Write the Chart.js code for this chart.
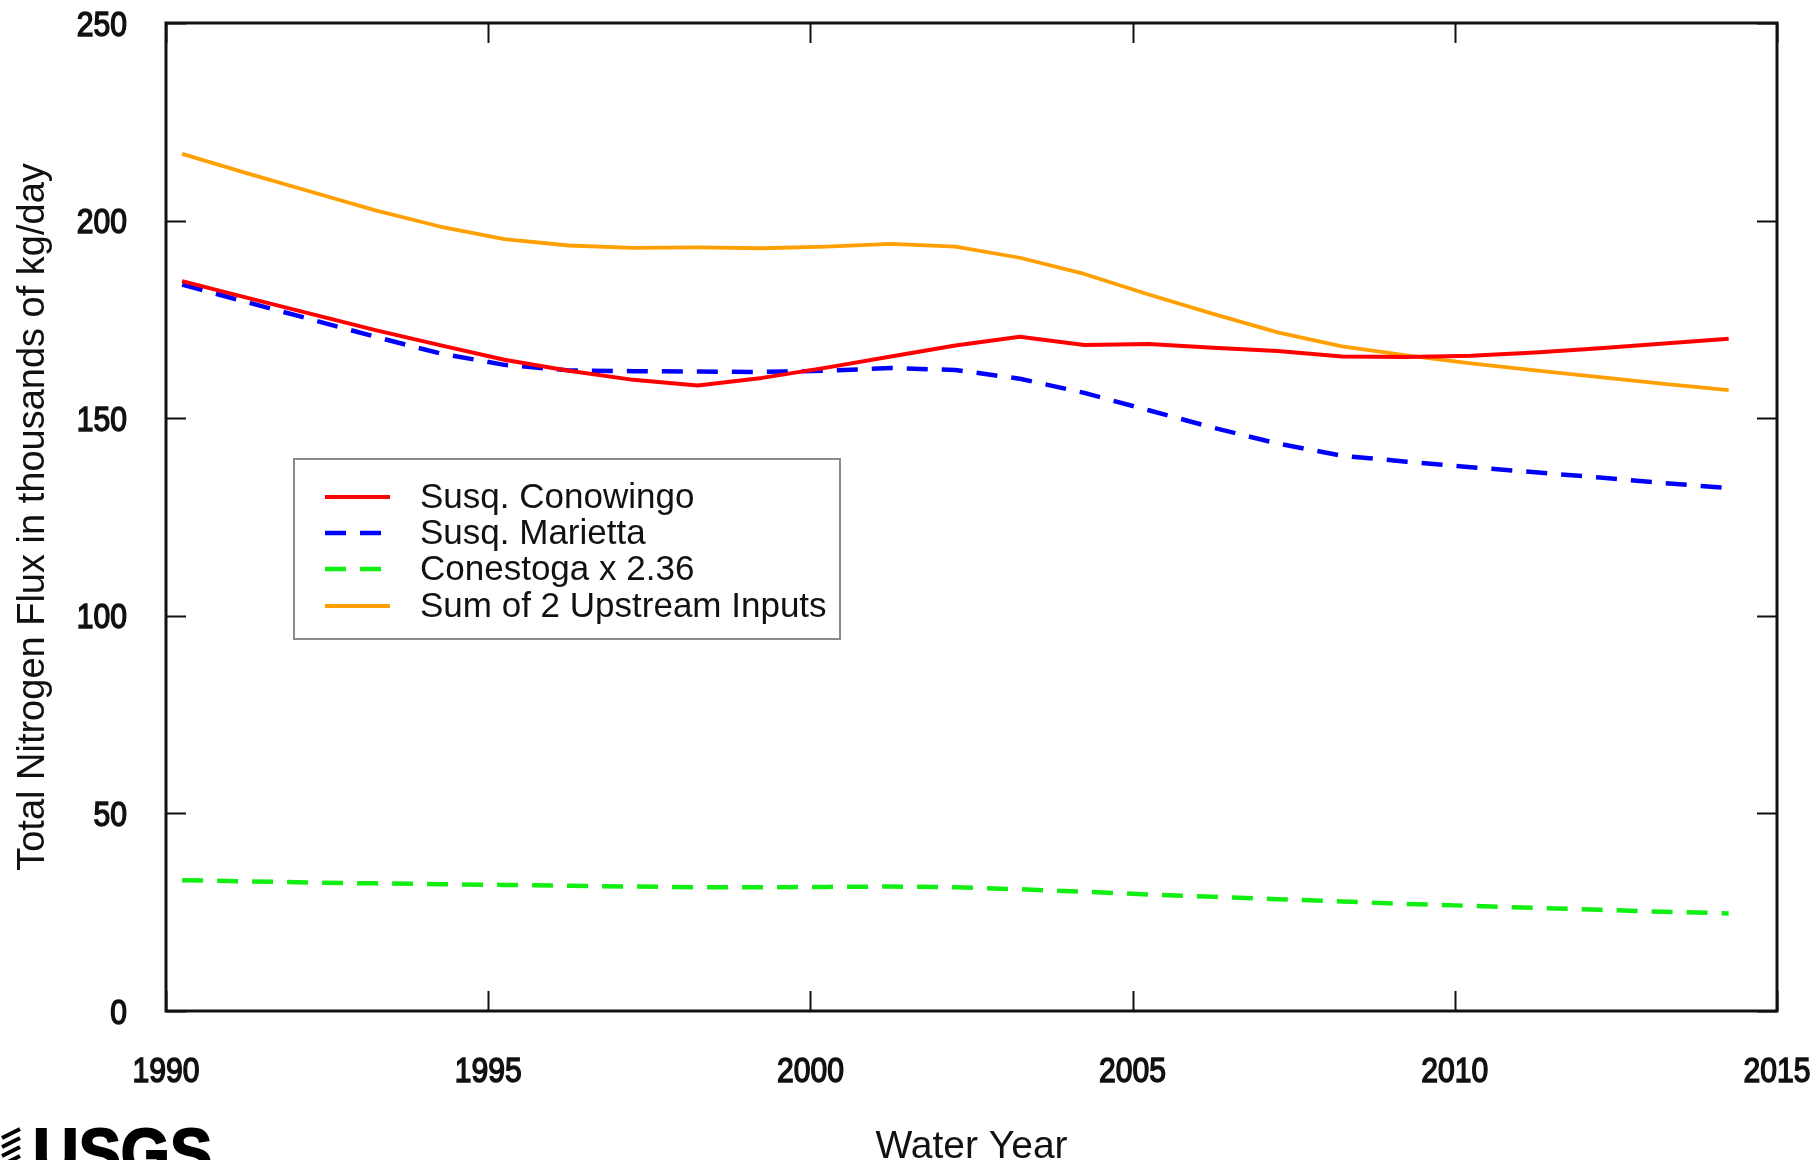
<!DOCTYPE html>
<html>
<head>
<meta charset="utf-8">
<title>Total Nitrogen Flux</title>
<script src="https://cdn.jsdelivr.net/npm/chart.js@4.4.1/dist/chart.umd.min.js"></script>
<style>
  html, body { margin: 0; padding: 0; background: #ffffff; }
  #wrap { width: 1816px; height: 1160px; position: relative; }
  canvas { display: block; }
</style>
</head>
<body>
<div id="wrap"><canvas id="chart" width="1816" height="1160"></canvas></div>
<script>
// Water years, plotted at the middle of each water year
const waterYears = [1990.25, 1991.25, 1992.25, 1993.25, 1994.25, 1995.25, 1996.25, 1997.25, 1998.25,
  1999.25, 2000.25, 2001.25, 2002.25, 2003.25, 2004.25, 2005.25, 2006.25, 2007.25, 2008.25,
  2009.25, 2010.25, 2011.25, 2012.25, 2013.25, 2014.25];

// Flow-normalized total nitrogen flux, thousands of kg/day
const conowingo = [184.7, 180.5, 176.4, 172.3, 168.5, 164.8, 162.0, 159.7, 158.3, 160.2, 162.8, 165.6,
  168.4, 170.6, 168.5, 168.8, 167.8, 167.0, 165.6, 165.5, 165.8, 166.6, 167.7, 168.9, 170.1];
const marietta = [183.8, 179.4, 175.0, 170.6, 166.4, 163.5, 162.1, 161.9, 161.8, 161.7, 162.0, 162.7,
  162.2, 160.0, 156.4, 152.0, 147.6, 143.6, 140.5, 139.0, 137.6, 136.3, 135.0, 133.6, 132.3];
const conestogaScaled = [33.1, 32.8, 32.5, 32.3, 32.1, 31.9, 31.7, 31.5, 31.3, 31.3, 31.4, 31.5,
  31.3, 30.8, 30.2, 29.5, 28.9, 28.3, 27.7, 27.1, 26.6, 26.1, 25.6, 25.1, 24.7];
const upstreamSum = [216.9, 212.0, 207.3, 202.6, 198.5, 195.3, 193.7, 193.1, 193.2, 193.0, 193.4, 194.1,
  193.4, 190.6, 186.5, 181.3, 176.4, 171.7, 168.2, 165.9, 163.9, 162.1, 160.4, 158.7, 157.1];

const seriesNames = ['Susq. Conowingo', 'Susq. Marietta', 'Conestoga x 2.36', 'Sum of 2 Upstream Inputs'];

// Axis ticks
const xTickValues = [1990, 1995, 2000, 2005, 2010, 2015];
const yTickValues = [0, 50, 100, 150, 200, 250];

const W = 1816, H = 1160;
const PLOT = { left: 166, right: 1777, top: 23, bottom: 1011 };
const SANS = '"Liberation Sans", Arial, Helvetica, sans-serif';
const TICK_FONT = '35px "Liberation Sans", Arial, sans-serif';
const TICK_SQUEEZE = 0.86;   // narrow numerals on both axes

const toPoints = vals => vals.map((v, i) => ({ x: waterYears[i], y: v }));

// Draws a string horizontally condensed and slightly emboldened, anchored at (px, py)
function narrowText(ctx, text, px, py, align) {
  ctx.save();
  ctx.translate(px, py);
  ctx.scale(TICK_SQUEEZE, 1);
  ctx.textAlign = align;
  ctx.textBaseline = 'alphabetic';
  ctx.lineWidth = 1.5;
  ctx.strokeStyle = ctx.fillStyle;
  ctx.fillText(text, 0, 0);
  ctx.strokeText(text, 0, 0);
  ctx.restore();
}

// Box frame with inward tick marks on all four sides, plus tick labels
const framePlugin = {
  id: 'frame',
  afterDatasetsDraw(chart) {
    const { ctx, chartArea: a, scales: { x, y } } = chart;
    ctx.save();
    ctx.strokeStyle = '#111';
    ctx.lineCap = 'butt';
    ctx.lineWidth = 2;
    const tl = 20;
    ctx.beginPath();
    x.ticks.forEach(t => {
      const px = Math.round(x.getPixelForValue(t.value)) + 0.5;
      ctx.moveTo(px, a.bottom); ctx.lineTo(px, a.bottom - tl);
      ctx.moveTo(px, a.top); ctx.lineTo(px, a.top + tl);
    });
    y.ticks.forEach(t => {
      const py = Math.round(y.getPixelForValue(t.value)) + 0.5;
      ctx.moveTo(a.left, py); ctx.lineTo(a.left + tl, py);
      ctx.moveTo(a.right, py); ctx.lineTo(a.right - tl, py);
    });
    ctx.stroke();
    ctx.lineWidth = 3;
    ctx.strokeRect(a.left, a.top, a.right - a.left, a.bottom - a.top);

    ctx.fillStyle = '#111';
    ctx.font = TICK_FONT;
    x.ticks.forEach(t => {
      narrowText(ctx, String(t.value), x.getPixelForValue(t.value), a.bottom + 71, 'center');
    });
    y.ticks.forEach(t => {
      narrowText(ctx, String(t.value), a.left - 39, y.getPixelForValue(t.value) + 12.5, 'right');
    });
    ctx.restore();
  }
};

// Legend box placed inside the plotting area
const legendPlugin = {
  id: 'insideLegend',
  afterDraw(chart) {
    const { ctx, chartArea: a } = chart;
    const bx = a.left + 128, by = a.top + 436, bw = 546, bh = 180;
    ctx.save();
    ctx.fillStyle = '#ffffff';
    ctx.fillRect(bx, by, bw, bh);
    ctx.strokeStyle = '#8a8a8a';
    ctx.lineWidth = 2;
    ctx.strokeRect(bx, by, bw, bh);
    const rows = [38, 74, 110, 147];
    chart.data.datasets.forEach((ds, i) => {
      const yy = by + rows[i];
      ctx.beginPath();
      ctx.strokeStyle = ds.borderColor;
      ctx.lineWidth = ds.borderWidth;
      ctx.setLineDash(ds.borderDash || []);
      ctx.moveTo(bx + 31, yy);
      ctx.lineTo(bx + 96, yy);
      ctx.stroke();
      ctx.setLineDash([]);
      ctx.fillStyle = '#111';
      ctx.font = '35px ' + SANS;
      ctx.textBaseline = 'middle';
      ctx.textAlign = 'left';
      ctx.fillText(ds.label, bx + 126, yy + 1);
    });
    ctx.restore();
  }
};

// Agency wordmark in the lower-left corner, cut by the page edge
const logoPlugin = {
  id: 'logo',
  afterDraw(chart) {
    const { ctx } = chart;
    ctx.save();
    ctx.fillStyle = '#000';
    ctx.strokeStyle = '#000';
    ctx.lineWidth = 2;
    ctx.font = '900 68px ' + SANS;
    ctx.textBaseline = 'alphabetic';
    ctx.textAlign = 'left';
    ctx.translate(33, 1176);
    ctx.scale(0.93, 1);
    ctx.fillText('USGS', 0, 0);
    ctx.strokeText('USGS', 0, 0);
    ctx.restore();
    ctx.save();
    ctx.strokeStyle = '#000';
    ctx.lineWidth = 4;
    ctx.lineCap = 'butt';
    ctx.beginPath();
    for (let k = 0; k < 4; k++) {
      const yy = 1133 + k * 9;
      ctx.moveTo(2, yy + 5);
      ctx.quadraticCurveTo(10, yy + 1, 20, yy - 4);
    }
    ctx.stroke();
    ctx.restore();
  }
};

new Chart(document.getElementById('chart'), {
  type: 'line',
  data: {
    datasets: [
      { label: seriesNames[0], data: toPoints(conowingo), borderColor: '#ff0000', borderWidth: 4 },
      { label: seriesNames[1], data: toPoints(marietta), borderColor: '#0000ff', borderWidth: 4.5, borderDash: [21, 14] },
      { label: seriesNames[2], data: toPoints(conestogaScaled), borderColor: '#11ee11', borderWidth: 4.5, borderDash: [21, 14] },
      { label: seriesNames[3], data: toPoints(upstreamSum), borderColor: '#ffa000', borderWidth: 3.8 }
    ]
  },
  options: {
    responsive: false,
    animation: false,
    devicePixelRatio: 1,
    parsing: false,
    layout: { padding: { left: 0, right: W - PLOT.right, top: PLOT.top, bottom: 0 } },
    elements: {
      point: { radius: 0, hoverRadius: 0 },
      line: { tension: 0, fill: false, borderCapStyle: 'butt', borderJoinStyle: 'round' }
    },
    plugins: {
      legend: { display: false },
      tooltip: { enabled: false },
      title: { display: false }
    },
    scales: {
      x: {
        type: 'linear',
        min: 1990,
        max: 2015,
        afterBuildTicks(s) { s.ticks = xTickValues.map(v => ({ value: v })); },
        afterFit(s) {
          s.height = H - PLOT.bottom;
          s.paddingLeft = 0; s.paddingRight = 0;
        },
        grid: { display: false, drawTicks: false },
        border: { display: false },
        ticks: { display: false },
        title: {
          display: true, text: 'Water Year', color: '#111',
          font: { family: SANS, size: 39, lineHeight: 0.67 },
          padding: { top: 0, bottom: 0 }
        }
      },
      y: {
        type: 'linear',
        min: 0,
        max: 250,
        afterBuildTicks(s) { s.ticks = yTickValues.map(v => ({ value: v })); },
        afterFit(s) {
          s.width = PLOT.left;
          s.paddingTop = 0; s.paddingBottom = 0;
        },
        grid: { display: false, drawTicks: false },
        border: { display: false },
        ticks: { display: false },
        title: {
          display: true, text: 'Total Nitrogen Flux in thousands of kg/day', color: '#111',
          font: { family: SANS, size: 38, lineHeight: 1 },
          padding: { top: 15, bottom: 0 }
        }
      }
    }
  },
  plugins: [framePlugin, legendPlugin, logoPlugin]
});
</script>
</body>
</html>
